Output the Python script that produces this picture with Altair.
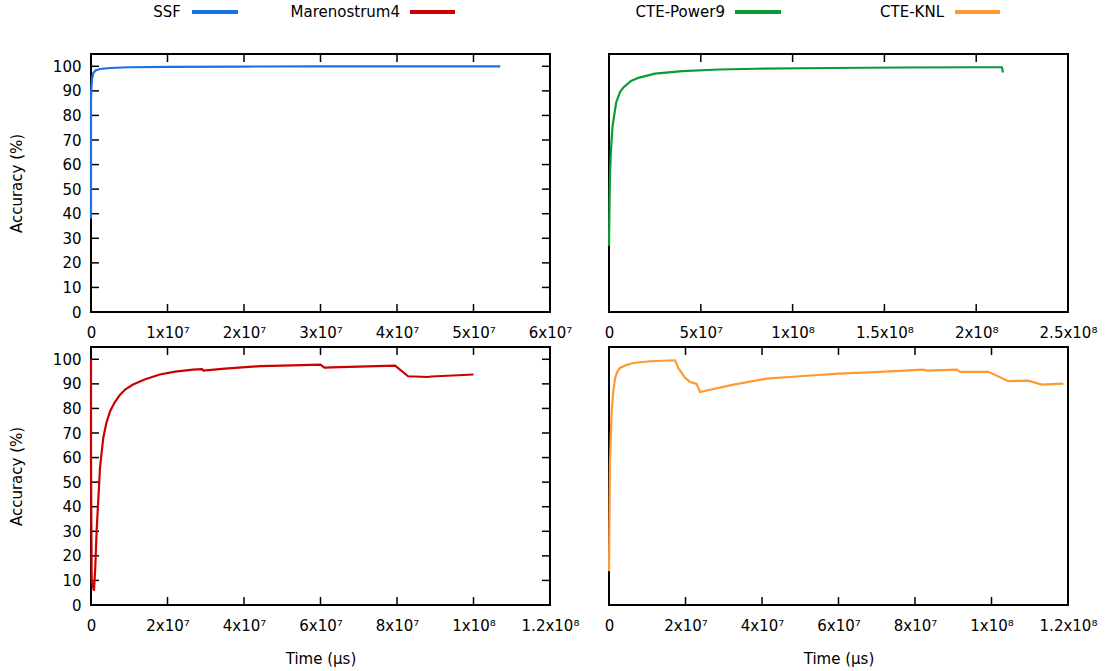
import altair as alt
import pandas as pd

FONT = "DejaVu Sans"
W, H = 459, 258

# ---------------- data ----------------
ssf_t = [0, 0, 0, 3e4, 8e4, 1.5e5, 3e5, 6e5, 1.2e6, 2.5e6, 5e6, 1e7, 2e7, 3e7, 4e7, 5.35e7]
ssf_acc = [38, 70, 86, 90, 92.5, 95, 97.3, 98.3, 98.9, 99.3, 99.6, 99.8, 99.9, 99.95, 100, 100]

p9_t = [0, 3e5, 6e5, 1e6, 1.5e6, 2e6, 3e6, 4e6, 6e6, 8e6, 1.2e7, 1.6e7, 2.5e7, 4e7,
        6e7, 8e7, 1.2e8, 1.6e8, 2.0e8, 2.14e8, 2.146e8]
p9_acc = [27, 45, 57, 65, 71, 76, 81, 85.5, 89.5, 91.5, 94, 95.3, 97, 98, 98.7, 99,
          99.3, 99.5, 99.6, 99.6, 97.5]

mn_t = [0, 0, 1.8e5, 7.8e5, 1.1e6, 1.5e6, 2.35e6, 3.2e6, 4e6, 5e6, 6.2e6, 7.6e6, 9e6,
        1.1e7, 1.4e7, 1.8e7, 2.2e7, 2.67e7, 2.9e7, 2.94e7, 3.5e7, 4.42e7, 5e7, 6e7, 6.1e7,
        6.5e7, 7.95e7, 8.29e7, 8.8e7, 8.9e7, 1e8]
mn_acc = [100, 60, 10, 5.8, 15, 31, 55.8, 68, 74, 78.9, 82.5, 85.6, 87.8,
          89.7, 91.8, 93.8, 95, 95.8, 96, 95.4, 96.2, 97.2, 97.4, 97.8, 96.6,
          96.8, 97.4, 93.1, 92.8, 93, 93.8]

knl_t = [0, 2.6e5, 7e5, 1.1e6, 1.6e6, 2.2e6, 2.9e6, 4.5e6, 6.4e6, 1.07e7, 1.73e7, 1.81e7,
         1.99e7, 2.12e7, 2.29e7, 2.38e7, 3.25e7, 4.12e7, 4.99e7, 6e7, 7.08e7, 8.22e7,
         8.31e7, 9.09e7, 9.18e7, 9.92e7, 1.044e8, 1.096e8, 1.131e8, 1.188e8]
knl_acc = [13.7, 58.6, 78.9, 86.5, 92.4, 95, 96.5, 97.7, 98.5, 99.2, 99.6, 96.5,
           92.4, 90.8, 90, 86.7, 89.7, 92.1, 93.1, 94.2, 94.9, 95.8,
           95.4, 95.8, 94.9, 94.9, 91.1, 91.3, 89.7, 90.1]

series_names = ["SSF", "Marenostrum4", "CTE-Power9", "CTE-KNL"]
series_colors = ["#1a70e8", "#cc0000", "#0a9b36", "#ff9933"]

y_ticks = [0, 10, 20, 30, 40, 50, 60, 70, 80, 90, 100]

x_ticks_ssf = [0, 1e7, 2e7, 3e7, 4e7, 5e7, 6e7]
x_labels_ssf = ["0", "1x10⁷", "2x10⁷", "3x10⁷", "4x10⁷", "5x10⁷", "6x10⁷"]
x_ticks_p9 = [0, 5e7, 1e8, 1.5e8, 2e8, 2.5e8]
x_labels_p9 = ["0", "5x10⁷", "1x10⁸", "1.5x10⁸", "2x10⁸", "2.5x10⁸"]
x_ticks_long = [0, 2e7, 4e7, 6e7, 8e7, 1e8, 1.2e8]
x_labels_long = ["0", "2x10⁷", "4x10⁷", "6x10⁷", "8x10⁷", "1x10⁸", "1.2x10⁸"]


def label_expr(values, labels):
    expr = "''"
    for v, l in reversed(list(zip(values, labels))):
        expr = f"abs(datum.value - {v}) < 1 ? '{l}' : ({expr})"
    return expr


def panel(t, acc, color, xticks, xlabels, left, bottom, legend):
    xmax = xticks[-1]
    df = pd.DataFrame({"t": t, "acc": acc, "i": list(range(len(t)))})
    xs = alt.Scale(domain=[0, xmax], nice=False, zero=True)
    ys = alt.Scale(domain=[0, 105], nice=False)

    xaxis_kw = dict(values=xticks, labelExpr=label_expr(xticks, xlabels),
                    labelPadding=13, labelFlush=False, labelOverlap=False)
    if bottom:
        xaxis = alt.Axis(title="Time (μs)", titlePadding=18, **xaxis_kw)
    else:
        xaxis = alt.Axis(title=None, **xaxis_kw)
    if left:
        yaxis = alt.Axis(values=y_ticks, title="Accuracy (%)", labelPadding=10,
                         titlePadding=28, labelOverlap=False)
    else:
        yaxis = None

    frame = alt.Chart(pd.DataFrame({"k": [0]})).mark_rect(
        filled=False, stroke="black", strokeWidth=2).encode(
        x=alt.value(0), x2=alt.value(W), y=alt.value(0), y2=alt.value(H))

    xt = pd.DataFrame({"t": xticks})
    bt = alt.Chart(xt).mark_rule(color="black", strokeWidth=1.5).encode(
        x=alt.X("t:Q", scale=xs, axis=xaxis), y=alt.value(H), y2=alt.value(H - 8))
    tt = alt.Chart(xt).mark_rule(color="black", strokeWidth=1.5).encode(
        x=alt.X("t:Q", scale=xs, axis=xaxis), y=alt.value(0), y2=alt.value(8))
    layers = [frame, bt, tt]
    if left:
        yt = pd.DataFrame({"acc": y_ticks})
        lt = alt.Chart(yt).mark_rule(color="black", strokeWidth=1.5).encode(
            y=alt.Y("acc:Q", scale=ys, axis=yaxis), x=alt.value(0), x2=alt.value(8))
        rt = alt.Chart(yt).mark_rule(color="black", strokeWidth=1.5).encode(
            y=alt.Y("acc:Q", scale=ys, axis=yaxis), x=alt.value(W - 8), x2=alt.value(W))
        layers += [lt, rt]

    line = alt.Chart(df).mark_line(color=color, strokeWidth=2.2).encode(
        x=alt.X("t:Q", scale=xs, axis=xaxis),
        y=alt.Y("acc:Q", scale=ys, axis=yaxis),
        order="i:Q")
    layers.append(line)

    for name, col, tx, l0, l1 in legend:
        ld = pd.DataFrame({"name": [name]})
        layers.append(alt.Chart(ld).mark_text(align="right", baseline="middle", font=FONT,
                                              fontSize=15, color="black").encode(
            text="name:N", x=alt.value(tx), y=alt.value(-42)))
        layers.append(alt.Chart(ld).mark_rule(color=col, strokeWidth=4).encode(
            x=alt.value(l0), x2=alt.value(l1), y=alt.value(-42)))
    return alt.layer(*layers).properties(width=W, height=H)


tl = panel(ssf_t, ssf_acc, series_colors[0], x_ticks_ssf, x_labels_ssf, True, False,
           [(series_names[0], series_colors[0], 90, 101, 147),
            (series_names[1], series_colors[1], 309, 319, 364)])
tr = panel(p9_t, p9_acc, series_colors[2], x_ticks_p9, x_labels_p9, False, False,
           [(series_names[2], series_colors[2], 116, 126, 172),
            (series_names[3], series_colors[3], 335, 346, 391)])
bl = panel(mn_t, mn_acc, series_colors[1], x_ticks_long, x_labels_long, True, True, [])
br = panel(knl_t, knl_acc, series_colors[3], x_ticks_long, x_labels_long, False, True, [])

chart = alt.concat(tl, tr, bl, br, columns=2, spacing={"row": 35, "column": 59},
                   bounds="flush").configure(
    background="white", padding={"left": 9, "top": 5, "right": 5, "bottom": 5}
).configure_view(strokeWidth=0).configure_axis(
    labelFont=FONT, titleFont=FONT, labelFontSize=15, titleFontSize=15,
    titleFontWeight="normal", labelColor="black", titleColor="black",
    grid=False, domain=False, ticks=False)

chart.save("out.html", embed_options={"renderer": "svg", "actions": False})
